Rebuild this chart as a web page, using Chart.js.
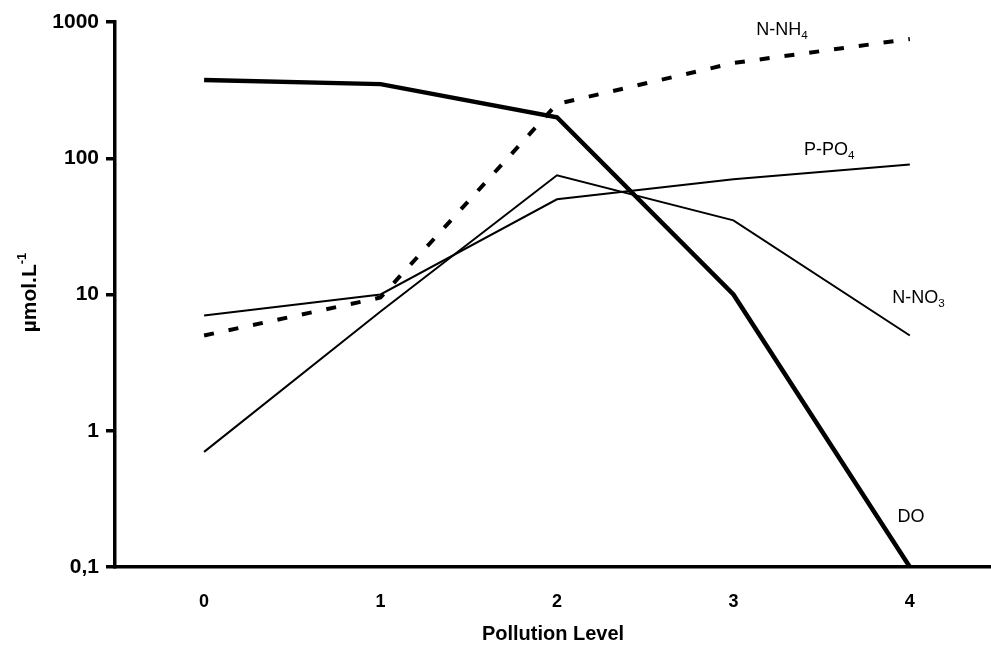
<!DOCTYPE html>
<html>
<head>
<meta charset="utf-8">
<script src="https://cdn.jsdelivr.net/npm/chart.js@4"></script>
<style>
html,body{margin:0;padding:0;background:#fff;}
#wrap{width:991px;height:647px;}
</style>
</head>
<body>
<div id="wrap"><canvas id="c" width="991" height="647"></canvas></div>
<script>
// ---- data ----
const categories = [0, 1, 2, 3, 4];
const xTickLabels = ['0', '1', '2', '3', '4'];
const yTickValues = [0.1, 1, 10, 100, 1000];
const yTickLabels = ['0,1', '1', '10', '100', '1000'];
const seriesDO   = [375, 350, 200, 10, 0.1];
const seriesNH4  = [5, 9.5, 250, 500, 750];
const seriesPO4  = [7, 10, 50, 70, 90];
const seriesNO3  = [0.7, 7.5, 75, 35, 5];
const xTitle = 'Pollution Level';

function pts(arr){ return categories.map((c,i)=>({x:c, y:arr[i]})); }

// series label annotations
const seriesLabels = [
  {parts:[['N-NH',0],['4',1]], x:3.13, y:870},
  {parts:[['P-PO',0],['4',1]], x:3.40, y:115},
  {parts:[['N-NO',0],['3',1]], x:3.90, y:9.4},
  {parts:[['DO',0]], x:3.93, y:0.233}
];

const FONT = '"Liberation Sans", Arial, sans-serif';

function drawRich(ctx, parts, x, y, size, weight){
  let cx = x;
  parts.forEach(([t, sub])=>{
    const s = sub ? size*0.65 : size;
    ctx.font = weight + ' ' + s + 'px ' + FONT;
    const dy = sub ? size*0.3 : 0;
    ctx.fillText(t, cx, y+dy);
    cx += ctx.measureText(t).width;
  });
}

const textPlugin = {
  id:'texts',
  afterDraw(chart){
    const ctx = chart.ctx, xs = chart.scales.x, ys = chart.scales.y, ca = chart.chartArea;
    ctx.save();
    ctx.fillStyle = '#000';
    ctx.textBaseline = 'middle';
    ctx.textAlign = 'left';
    seriesLabels.forEach(l=>{
      drawRich(ctx, l.parts, xs.getPixelForValue(l.x), ys.getPixelForValue(l.y), 18, 'normal');
    });
    // x title
    ctx.textAlign = 'center';
    ctx.font = 'bold 20px ' + FONT;
    ctx.fillText(xTitle, (ca.left+ca.right)/2, ca.bottom + 67);
    ctx.textAlign = 'left';
    // y title
    ctx.translate(ca.left - 85, (ca.top+ca.bottom)/2 - 2);
    ctx.rotate(-Math.PI/2);
    const big = 'bold 21px ' + FONT, small = 'bold 13px ' + FONT;
    ctx.font = big;
    const main = 'µmol.L', sup = '-1';
    const w1 = ctx.measureText(main).width;
    ctx.font = small;
    const w2 = ctx.measureText(sup).width;
    let sx = -(w1+w2)/2;
    ctx.font = big;
    ctx.fillText(main, sx, 0);
    ctx.font = small;
    ctx.fillText(sup, sx + w1, -8);
    ctx.restore();
  }
};

const common = {fill:false, pointRadius:0, borderColor:'#000', tension:0, clip:false, borderCapStyle:'butt', borderJoinStyle:'miter'};

new Chart(document.getElementById('c'), {
  type:'line',
  data:{
    datasets:[
      Object.assign({label:'DO', data:pts(seriesDO), borderWidth:4.5}, common),
      Object.assign({label:'N-NH4', data:pts(seriesNH4), borderWidth:4, borderDash:[10,15]}, common),
      Object.assign({label:'P-PO4', data:pts(seriesPO4), borderWidth:2}, common),
      Object.assign({label:'N-NO3', data:pts(seriesNO3), borderWidth:2}, common)
    ]
  },
  options:{
    responsive:false,
    animation:false,
    events:[],
    layout:{padding:{left:0, right:0, top:22, bottom:0}},
    plugins:{legend:{display:false}, tooltip:{enabled:false}},
    scales:{
      x:{
        type:'linear',
        min:-0.505, max:4.46,
        afterBuildTicks(s){ s.ticks = categories.map(v=>({value:v})); },
        afterFit(s){ s.height = 80; },
        grid:{display:false},
        border:{display:true, color:'#000', width:3.5},
        ticks:{
          color:'#000', padding:16, maxRotation:0,
          font:{family:FONT, weight:'bold', size:18},
          callback:(v)=>{ const i = categories.indexOf(v); return i>=0 ? xTickLabels[i] : ''; }
        },
        title:{display:false}
      },
      y:{
        type:'logarithmic',
        min:0.1, max:1000,
        afterBuildTicks(s){ s.ticks = yTickValues.map(v=>({value:v})); },
        afterFit(s){ s.width = 115; },
        grid:{display:true, drawOnChartArea:false, drawTicks:true, tickLength:9, lineWidth:3.5, color:'#000'},
        border:{display:true, color:'#000', width:3.5},
        ticks:{
          color:'#000', padding:7,
          font:{family:FONT, weight:'bold', size:21},
          callback:(v)=>{ const i = yTickValues.indexOf(v); return i>=0 ? yTickLabels[i] : ''; }
        }
      }
    }
  },
  plugins:[textPlugin]
});
</script>
</body>
</html>
